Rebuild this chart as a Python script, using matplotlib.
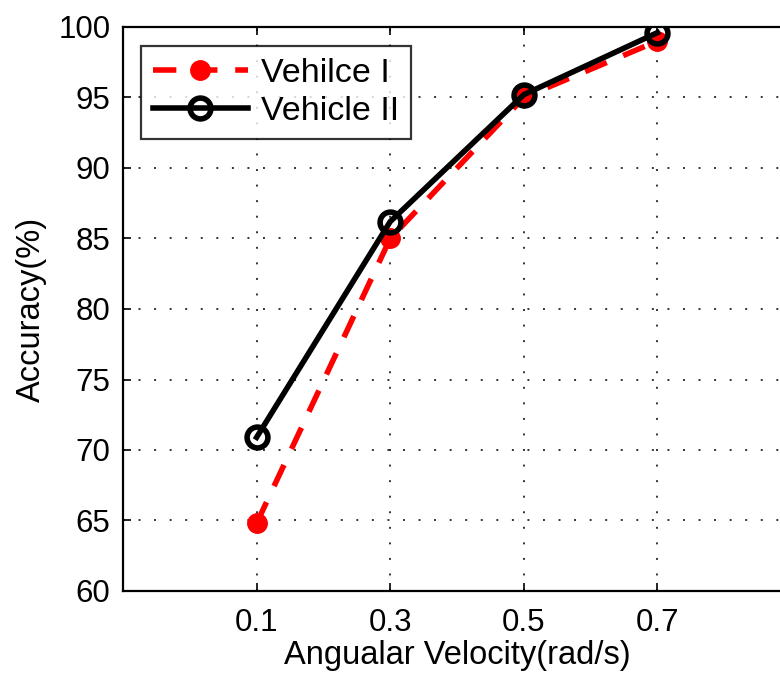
import matplotlib
matplotlib.use("Agg")
import matplotlib.pyplot as plt

# velocidades angulares e acurácias medidas
velocidades = [0.1, 0.3, 0.5, 0.7]
acc_veiculo1 = [64.8, 85.0, 95.0, 99.0]
acc_veiculo2 = [70.9, 86.2, 95.2, 99.6]
yticks = [60, 65, 70, 75, 80, 85, 90, 95, 100]

plt.rcParams["font.family"] = ["Liberation Sans", "DejaVu Sans"]

fig = plt.figure(figsize=(7.8, 6.73), dpi=100)
# eixo mais largo que a figura: a borda direita fica cortada
ax = fig.add_axes([123 / 780, 1 - 591 / 673, 668 / 780, 564 / 673])

ax.plot(velocidades, acc_veiculo1, color="red", linestyle=(0, (4.2, 3.2)),
        linewidth=4, marker="o", markersize=14, markerfacecolor="red",
        markeredgecolor="red", label="Vehilce I", zorder=3)
ax.plot(velocidades, acc_veiculo2, color="black", linestyle="-",
        linewidth=4, marker="o", markersize=15, markerfacecolor="none",
        markeredgecolor="black", markeredgewidth=4, label="Vehicle II",
        zorder=4)

ax.set_xlim(-0.1, 0.9)
ax.set_ylim(60, 100)
ax.set_xticks(velocidades)
ax.set_xticklabels([str(v) for v in velocidades])
ax.set_yticks(yticks)

ax.grid(True, linestyle=(0, (1, 7)), color="#333333", linewidth=1.4)
ax.tick_params(direction="in", length=6, width=1.2, labelsize=22.5,
               top=True, right=False)
ax.tick_params(axis="x", pad=12)
ax.tick_params(axis="y", pad=9)
for s in ax.spines.values():
    s.set_linewidth(1.6)

ax.set_xlabel("Angualar Velocity(rad/s)", fontsize=23.5, labelpad=2)
ax.set_ylabel("Accuracy(%)", fontsize=23.5, labelpad=8)

leg = ax.legend(loc="upper left", bbox_to_anchor=(0.027, 0.966), fontsize=24.5,
                frameon=True, fancybox=False, edgecolor="black",
                handlelength=2.8, borderpad=0.34, labelspacing=0.22,
                handletextpad=0.4, borderaxespad=0)
leg.get_frame().set_linewidth(1.6)

fig.savefig("out.png", dpi=100)
